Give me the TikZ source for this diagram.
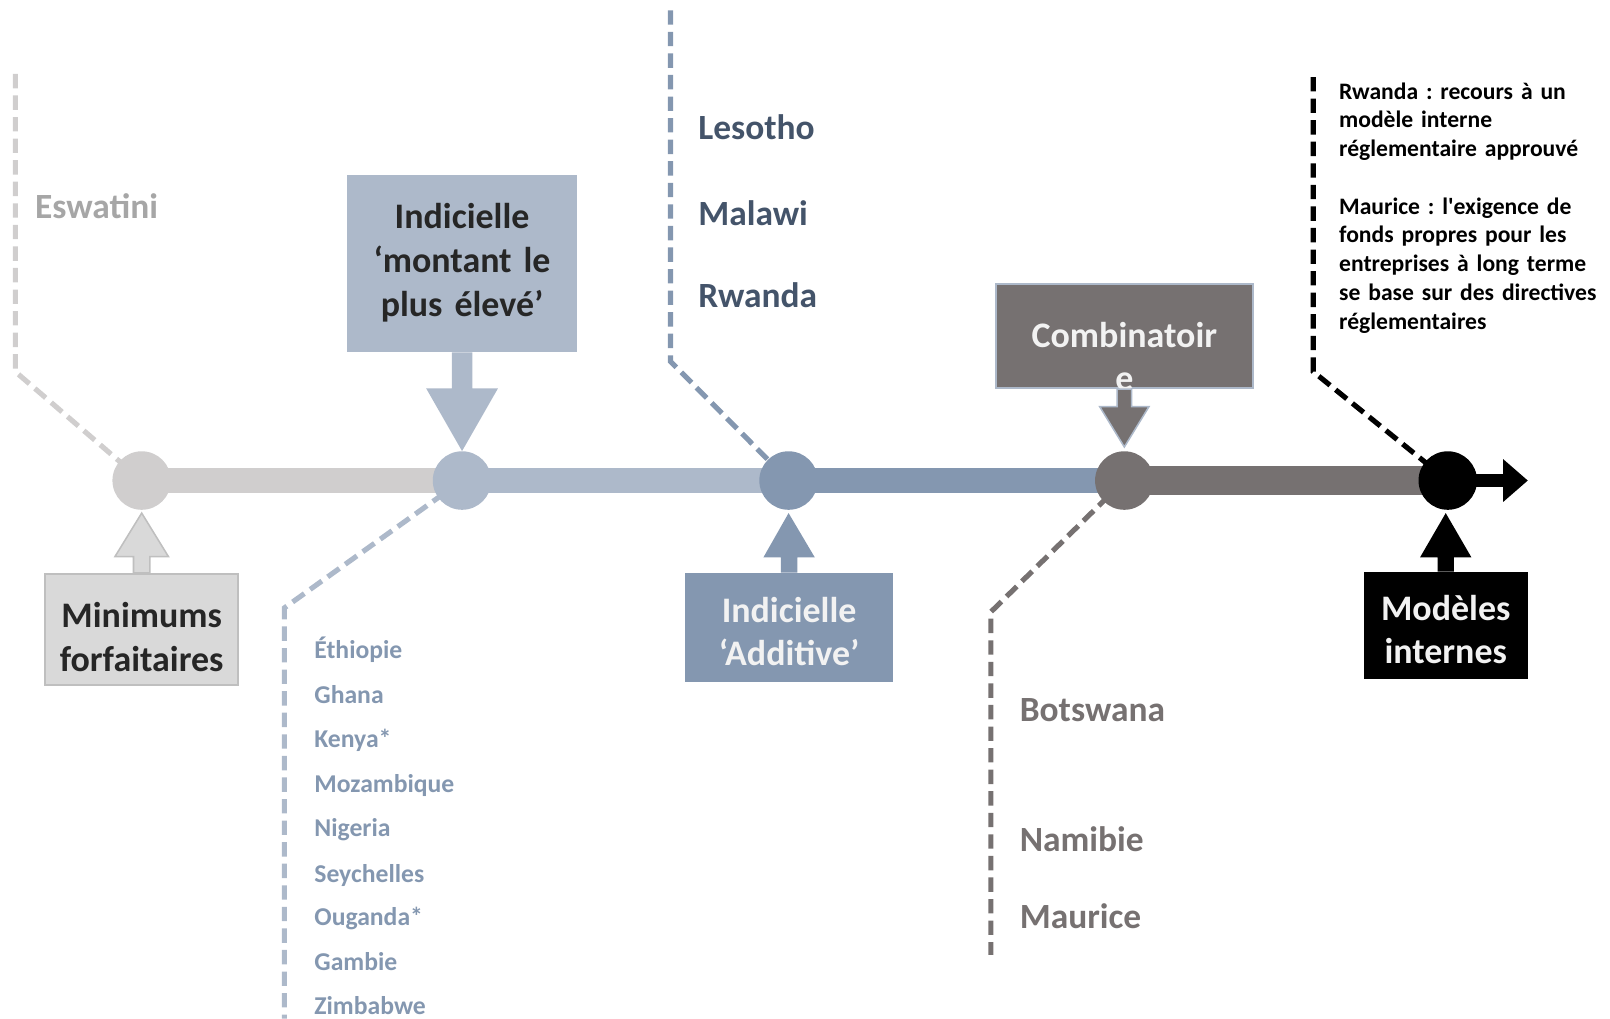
\documentclass[tikz,border=0pt]{standalone}
\usepackage{fontspec}
\setmainfont{Carlito}
\usetikzlibrary{arrows.meta,calc,backgrounds}
\frenchspacing

\definecolor{gris}{HTML}{D0CECE}
\definecolor{grisboite}{HTML}{D9D9D9}
\definecolor{grisbord}{HTML}{BFBFBF}
\definecolor{grispays}{HTML}{A6A6A6}
\definecolor{bleuclair}{HTML}{ADB9CA}
\definecolor{bleu}{HTML}{8497B0}
\definecolor{bleufonce}{HTML}{44546A}
\definecolor{anthracite}{HTML}{767171}
\definecolor{texte}{HTML}{262626}
\definecolor{blanc}{HTML}{F2F2F2}

\begin{document}
\begin{tikzpicture}[x=1pt,y=-1pt]
\tikzset{etape/.style={circle, minimum size=57, inner sep=0},
  troncon/.style={line width=24},
  pointille/.style={line width=5, dash pattern=on 14pt off 7pt},
  boite/.style={inner sep=0, align=center, font=\bfseries\fontsize{35}{42.5}\selectfont},
  grandpays/.style={anchor=base west, inner sep=0, font=\bfseries\fontsize{34.5}{41}\selectfont},
  petitpays/.style={anchor=base west, inner sep=0, text=bleu, font=\bfseries\fontsize{25}{30}\selectfont},
  note/.style={anchor=base west, inner sep=0, text width=300, align=left, font=\bfseries\fontsize{23}{28}\selectfont}}
\useasboundingbox (0,0) rectangle (1568,992);

% etapes sur l'axe
\node[etape, fill=gris] (c1) at (138,468) {};
\node[etape, fill=bleuclair] (c2) at (450,468) {};
\node[etape, fill=bleu] (c3) at (768,468) {};
\node[etape, fill=anthracite] (c4) at (1095,468) {};
\node[etape, fill=black] (c5) at (1410,468) {};
\coordinate (fin) at (1488,468);

% coudes des pointilles
\coordinate (esw1) at (15,72);
\coordinate (esw2) at (15,362);
\coordinate (eth1) at (277,592);
\coordinate (eth2) at (277,992);
\coordinate (les1) at (653,10);
\coordinate (les2) at (653,352);
\coordinate (bot1) at (965,596);
\coordinate (bot2) at (965,930);
\coordinate (mod1) at (1279,75);
\coordinate (mod2) at (1279,362);

\begin{pgfonlayer}{background}
\draw[troncon, gris] (c1.center) -- (c2.center);
\draw[troncon, bleuclair] (c2.center) -- (c3.center);
\draw[troncon, bleu] (c3.center) -- (c4.center);
\draw[troncon, anthracite, line width=28] (c4.center) -- (c5.center);
\draw[line width=12, -{Triangle[length=24,width=40]}] (c5.center) -- (fin);
\draw[pointille, gris] (esw1) -- (esw2) -- (c1.center);
\draw[pointille, bleuclair] (c2.center) -- (eth1) -- (eth2);
\draw[pointille, bleu] (les1) -- (les2) -- (c3.center);
\draw[pointille, anthracite] (c4.center) -- (bot1) -- (bot2);
\draw[pointille, black] (mod1) -- (mod2) -- (c5.center);
\end{pgfonlayer}

% boites (text height/depth autour de la premiere ligne)
\node[boite, fill=grisboite, draw=grisbord, line width=2, text width=188, text height=52, text depth=56, text=texte] (minimums) at (138,613) {Minimums\\forfaitaires};
\node[boite, fill=bleuclair, text width=224, text height=53, text depth=120, text=texte] (plushaut) at (450,256.5) {Indicielle\\‘montant le\\plus élevé’};
\node[boite, fill=bleu, text width=203, text height=48, text depth=58, text=blanc] (additive) at (768.5,611) {Indicielle\\‘Additive’};
\node[boite, fill=anthracite, draw=bleuclair, line width=2, text width=250, text height=61, text depth=40, text=blanc] (combi) at (1095,327.5) {Combinatoir\\e};
\node[boite, fill=black, text width=160, text height=47, text depth=57, text=blanc] (internes) at (1408,609) {Modèles\\internes};

% fleches vers l'axe
\filldraw[fill=grisboite, draw=grisbord, line width=1.5] ($(minimums.north)+(-8,0)$) -- ++(0,-16) -- ++(-18,0) -- ($(c1.south)+(0,3)$) -- ($(minimums.north)+(26,-16)$) -- ++(-18,0) -- ++(0,16) -- cycle;
\fill[bleuclair] ($(plushaut.south)+(-10,0)$) -- ++(0,35) -- ++(-25,0) -- (c2.north) -- ($(plushaut.south)+(35,35)$) -- ++(-25,0) -- ++(0,-35) -- cycle;
\fill[bleu] ($(additive.north)+(-8,0)$) -- ++(0,-15) -- ++(-17,0) -- ($(c3.south)+(0,3)$) -- ($(additive.north)+(25,-15)$) -- ++(-17,0) -- ++(0,15) -- cycle;
\filldraw[fill=anthracite, draw=bleuclair, line width=1.5] ($(combi.south)+(-7,0)$) -- ++(0,17) -- ++(-17,0) -- ($(c4.north)+(0,-4)$) -- ($(combi.south)+(24,17)$) -- ++(-17,0) -- ++(0,-17) -- cycle;
\fill[black] ($(internes.north)+(-8,0)$) -- ++(0,-14) -- ++(-17,0) -- ($(c5.south)+(-2,3)$) -- ($(internes.north)+(25,-14)$) -- ++(-17,0) -- ++(0,14) -- cycle;

% pays
\node[grandpays, text=grispays] (eswatini) at (34,213) {Eswatini};
\node[grandpays, text=bleufonce] (lesotho) at (680,136) {Lesotho};
\node[grandpays, text=bleufonce] (malawi) at (680,220) {Malawi};
\node[grandpays, text=bleufonce] (rwanda) at (680,299) {Rwanda};
\node[grandpays, text=anthracite] (botswana) at (993,703) {Botswana};
\node[grandpays, text=anthracite] (namibie) at (993,829) {Namibie};
\node[grandpays, text=anthracite] (maurice) at (993,904) {Maurice};
\node[petitpays] (ethiopie) at (306,641) {Éthiopie};
\node[petitpays] (ghana) at (306,685) {Ghana};
\node[petitpays] (kenya) at (306,728) {Kenya*};
\node[petitpays] (mozambique) at (306,772) {Mozambique};
\node[petitpays] (nigeria) at (306,815) {Nigeria};
\node[petitpays] (seychelles) at (306,859) {Seychelles};
\node[petitpays] (ouganda) at (306,901) {Ouganda*};
\node[petitpays] (gambie) at (306,945) {Gambie};
\node[petitpays] (zimbabwe) at (306,988) {Zimbabwe};
\node[note] (remarque) at (1304,96.5) {Rwanda : recours à un\\modèle interne\\réglementaire approuvé\\[28pt]Maurice : l\textquotesingle exigence de\\fonds propres pour les\\entreprises à long terme\\se base sur des directives\\réglementaires};
\end{tikzpicture}
\end{document}
